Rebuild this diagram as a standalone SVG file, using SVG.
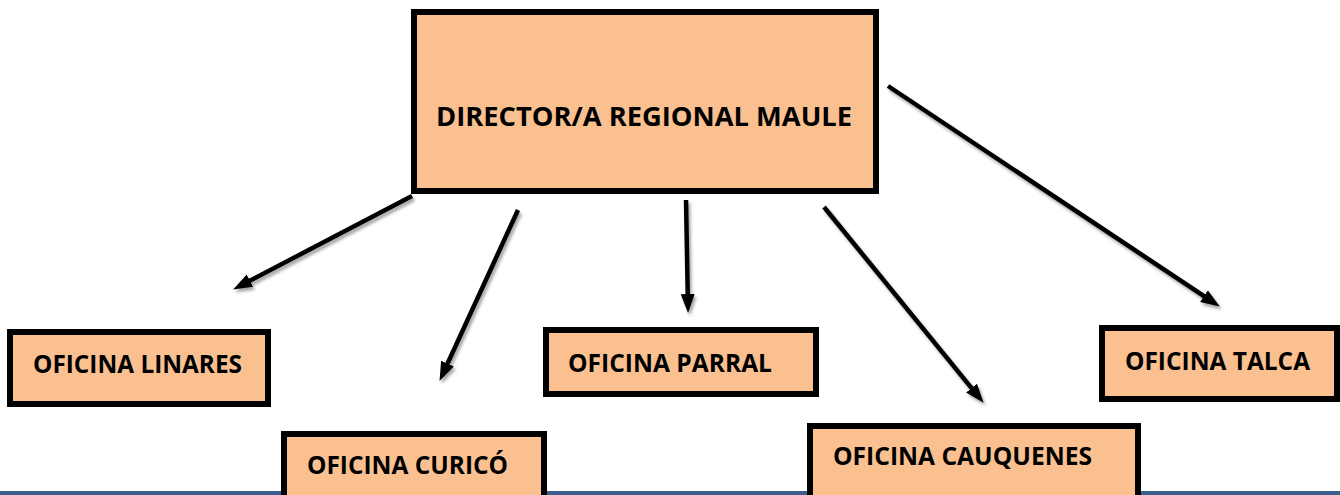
<svg xmlns="http://www.w3.org/2000/svg" width="1340" height="495" viewBox="0 0 1340 495">
  <style>
    .box { fill: #FAC090; stroke: #000; stroke-width: 6; }
    .lbl { font-family: "Open Sans", "Liberation Sans", sans-serif; font-weight: bold; font-size: 24.5px; fill: #000; }
    .main { font-size: 27.5px; }
    .conn { stroke: #000; stroke-width: 4.5; fill: none; marker-end: url(#arrow); }
  </style>
  <defs>
    <marker id="arrow" markerUnits="userSpaceOnUse" markerWidth="20" markerHeight="16" refX="10" refY="8" orient="auto">
      <path d="M0,1 L19,8 L0,15 Z" fill="#000"/>
    </marker>
    <filter id="shadow" x="-10%" y="-10%" width="130%" height="130%">
      <feDropShadow dx="2" dy="3" stdDeviation="1.5" flood-color="#000" flood-opacity="0.35"/>
    </filter>
  </defs>
  <rect x="0" y="0" width="1340" height="495" fill="#fff"/>
  <rect x="0" y="491" width="1340" height="4" fill="#3b5f8e"/>

  <g id="connectors" filter="url(#shadow)">
    <line class="conn" x1="412" y1="196" x2="241.1" y2="285.3"/>
    <line class="conn" x1="518" y1="210" x2="443.3" y2="372.7"/>
    <line class="conn" x1="686" y1="200" x2="687.9" y2="304"/>
    <line class="conn" x1="824" y1="207" x2="977.9" y2="395.8"/>
    <line class="conn" x1="888" y1="86" x2="1212.3" y2="301.6"/>
  </g>

  <g id="director">
    <rect class="box" x="414" y="12" width="462" height="179"/>
    <text class="lbl main" x="436" y="126" textLength="416" lengthAdjust="spacingAndGlyphs">DIRECTOR/A REGIONAL MAULE</text>
  </g>
  <g id="linares">
    <rect class="box" x="10" y="332" width="258" height="72"/>
    <text class="lbl" x="33" y="373" textLength="209" lengthAdjust="spacingAndGlyphs">OFICINA LINARES</text>
  </g>
  <g id="curico">
    <rect class="box" x="284" y="434" width="260" height="80"/>
    <text class="lbl" x="307" y="474" textLength="201" lengthAdjust="spacingAndGlyphs">OFICINA CURICÓ</text>
  </g>
  <g id="parral">
    <rect class="box" x="546" y="330" width="270" height="64"/>
    <text class="lbl" x="568" y="372" textLength="204" lengthAdjust="spacingAndGlyphs">OFICINA PARRAL</text>
  </g>
  <g id="cauquenes">
    <rect class="box" x="810" y="426" width="328" height="80"/>
    <text class="lbl" x="833" y="465" textLength="259" lengthAdjust="spacingAndGlyphs">OFICINA CAUQUENES</text>
  </g>
  <g id="talca">
    <rect class="box" x="1102" y="328" width="235" height="71"/>
    <text class="lbl" x="1125" y="370" textLength="185" lengthAdjust="spacingAndGlyphs">OFICINA TALCA</text>
  </g>
</svg>
